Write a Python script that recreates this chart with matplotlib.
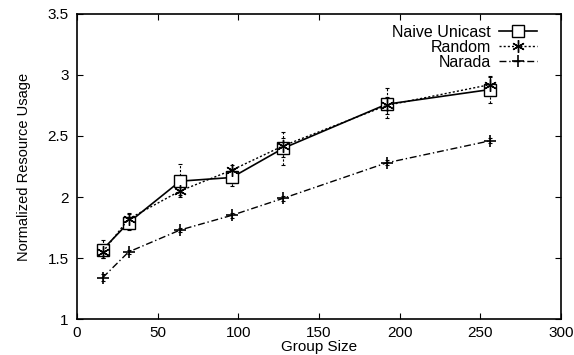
import numpy as np
import matplotlib.pyplot as plt

plt.rcParams['font.family'] = ['Liberation Sans', 'DejaVu Sans']

# group sizes (x axis)
group_size = [16, 32, 64, 96, 128, 192, 256]

# normalized resource usage per scheme
naive_unicast = [1.57, 1.79, 2.13, 2.16, 2.40, 2.76, 2.88]
naive_lo = [1.50, 1.73, 2.02, 2.09, 2.26, 2.65, 2.77]
naive_hi = [1.65, 1.86, 2.27, 2.23, 2.53, 2.89, 2.99]

random_ = [1.55, 1.82, 2.05, 2.22, 2.42, 2.75, 2.92]
random_lo = [1.50, 1.76, 2.00, 2.19, 2.33, 2.68, 2.84]
random_hi = [1.61, 1.87, 2.12, 2.26, 2.48, 2.82, 2.98]

narada = [1.34, 1.55, 1.73, 1.85, 1.99, 2.28, 2.46]
narada_lo = [1.31, 1.53, 1.71, 1.83, 1.97, 2.26, 2.44]
narada_hi = [1.37, 1.57, 1.75, 1.87, 2.01, 2.30, 2.48]


def err(vals, lo, hi):
    v = np.array(vals)
    return [v - np.array(lo), np.array(hi) - v]


fig = plt.figure(figsize=(5.74, 3.55), dpi=100)
ax = fig.add_axes([0.134, 0.101, 0.843, 0.86])

# error bars (dotted whiskers, like gnuplot)
for vals, lo, hi in [(naive_unicast, naive_lo, naive_hi),
                     (random_, random_lo, random_hi),
                     (narada, narada_lo, narada_hi)]:
    eb = ax.errorbar(group_size, vals, yerr=err(vals, lo, hi), fmt='none',
                     ecolor='black', elinewidth=0.8, capsize=1.5, capthick=0.8)
    eb[2][0].set_linestyle((0, (2, 1.5)))

ax.plot(group_size, naive_unicast, color='black', lw=1.2, ls='-',
        marker='s', markersize=8, markerfacecolor='white', markeredgewidth=1.0,
        label='Naive Unicast')
ax.plot(group_size, random_, color='black', lw=1.0, ls=(0, (1.5, 1.5)),
        marker=(6, 2, 0), markersize=9, markeredgewidth=1.0,
        label='Random')
ax.plot(group_size, narada, color='black', lw=1.0, ls=(0, (5, 2, 1, 2)),
        marker='+', markersize=9, markeredgewidth=1.2,
        label='Narada')

ax.set_xlim(0, 300)
ax.set_ylim(1, 3.5)
ax.set_xticks([0, 50, 100, 150, 200, 250, 300])
ax.set_yticks([1, 1.5, 2, 2.5, 3, 3.5])
ax.set_yticklabels(['1', '1.5', '2', '2.5', '3', '3.5'])
ax.tick_params(direction='in', length=4, labelsize=11, top=True, right=True,
               pad=6)
ax.tick_params(axis='x', pad=5)
for s in ax.spines.values():
    s.set_linewidth(1.2)

ax.set_xlabel('Group Size', fontsize=11, labelpad=0)
ax.set_ylabel('Normalized Resource Usage', fontsize=10.5, labelpad=12)

ax.legend(loc='upper right', bbox_to_anchor=(0.965, 0.985), borderaxespad=0,
          frameon=False, markerfirst=False, fontsize=11.5,
          handlelength=2.4, handletextpad=0.5, labelspacing=0.0)
for t in ax.get_legend().get_texts():
    t.set_ha('right')

fig.savefig('out.png', dpi=100)
